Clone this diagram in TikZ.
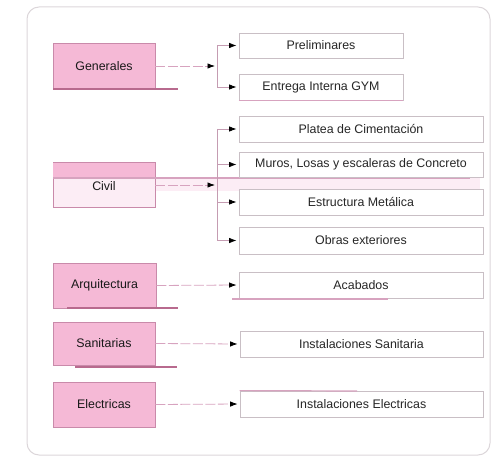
\documentclass[tikz,border=0pt]{standalone}
\usepackage{fontspec}
\setmainfont{Liberation Sans}
\usetikzlibrary{arrows.meta}
\definecolor{catfill}{HTML}{F5B9D6}
\definecolor{catdraw}{HTML}{C98AAA}
\definecolor{linkpink}{HTML}{D7A3BF}
\definecolor{rulepink}{HTML}{B86A8E}
\definecolor{framegray}{HTML}{DCD6DA}
\definecolor{taskdraw}{HTML}{C9BFC5}
\tikzset{
  lbl/.style={font=\fontsize{12.4}{14}\selectfont, text=black!85},
  cat/.style={lbl, draw=catdraw, fill=catfill, line width=0.8pt, minimum width=102pt,
    inner sep=0pt, text=black!90},
  task/.style={lbl, draw=taskdraw, fill=white, line width=0.8pt, minimum height=26pt,
    inner sep=0pt},
  link/.style={draw=linkpink, line width=0.8pt, dash pattern=on 10pt off 2.5pt},
  branch/.style={draw=linkpink!80!gray, line width=0.8pt},
  tip/.style={-{Latex[length=7.5pt,width=5.5pt,black]}, shorten >=2pt},
  underrule/.style={draw=rulepink, line width=1.6pt},
}
\begin{document}
\begin{tikzpicture}[x=1pt,y=-1pt]
\useasboundingbox (0,0) rectangle (494,457);
% outer frame
\draw[framegray, line width=1pt, rounded corners=12pt] (27,7) rectangle (490,455);

% faint band along the Civil row
\fill[catfill!25] (53,178) rectangle (480,191);

% category boxes
\node[cat, minimum height=46pt] (gen) at (104,66) {Generales};
\node[cat, minimum height=45pt, fill=catfill!25] (civ) at (104,185) {};
\fill[catfill] ([shift={(0.4,0.4)}]civ.north west) rectangle (154.6,178);
\node[lbl, text=black!90] (civl) at (104,186) {Civil};
\node[cat, minimum height=45pt, minimum width=103pt] (arq) at (104.5,285.5) {Arquitectura};
\node[cat, minimum height=43pt] (san) at (104,343.5) {Sanitarias};
\node[cat, minimum height=45pt] (ele) at (104,404.5) {Electricas};

% pink rule crossing the Civil row
\draw[linkpink, line width=1.6pt] (53,178) -- (470,178);

% underlines
\draw[underrule] (53,89) -- (178,89);
\draw[underrule] (67,308) -- (178,308);
\draw[underrule] (75,367) -- (177,367);

% task boxes
\node[task, minimum width=164pt, minimum height=25pt] (pre) at (321,45.5) {Preliminares};
\node[task, minimum width=164pt] (ent) at (321,87) {Entrega Interna GYM};
\node[task, minimum width=244pt] (pla) at (361,129) {Platea de Cimentación};
\node[task, minimum width=244pt, minimum height=25pt] (mur) at (361,164.5) {Muros, Losas y escaleras de Concreto};
\node[task, minimum width=244pt] (est) at (361,202) {Estructura Metálica};
\node[task, minimum width=244pt, minimum height=27pt] (obr) at (361,240.5) {Obras exteriores};
\node[task, minimum width=244pt] (aca) at (361,285) {Acabados};
\node[task, minimum width=243pt] (isan) at (361.5,344) {Instalaciones Sanitaria};
\node[task, minimum width=243pt] (iele) at (361.5,404) {Instalaciones Electricas};

% accent rules on task boxes
\draw[linkpink, line width=1.4pt] (ent.south west) -- (ent.south east);
\draw[linkpink, line width=1.4pt] (232,299) -- (388,299);
\draw[linkpink, line width=1.2pt] (iele.north west) -- (357,391);

% junction points
\coordinate (gj) at (217,66);
\coordinate (gt) at (217,45.5);
\coordinate (gb) at (217,87);
\coordinate (cj) at (217,185);
\coordinate (ct) at (217,129);
\coordinate (c2) at (217,164.5);
\coordinate (c3) at (217,202);
\coordinate (cb) at (217,240.5);

% Generales
\draw[link, tip] (gen.east) -- (gj);
\draw[branch] (gt) -- (gb);
\draw[branch, tip] (gt) -- (pre.west);
\draw[branch, tip] (gb) -- (ent.west);

% Civil
\draw[link, tip] (civ.east) -- (cj);
\draw[branch] (ct) -- (cb);
\draw[branch, tip] (ct) -- (pla.west);
\draw[branch, tip] (c2) -- (mur.west);
\draw[branch, tip] (c3) -- (est.west);
\draw[branch, tip] (cb) -- (obr.west);

% single links
\draw[link, tip] (arq.east) -- (aca.west);
\draw[link, tip] (san.east) -- (isan.west);
\draw[link, tip] (ele.east) -- (iele.west);
\end{tikzpicture}
\end{document}
